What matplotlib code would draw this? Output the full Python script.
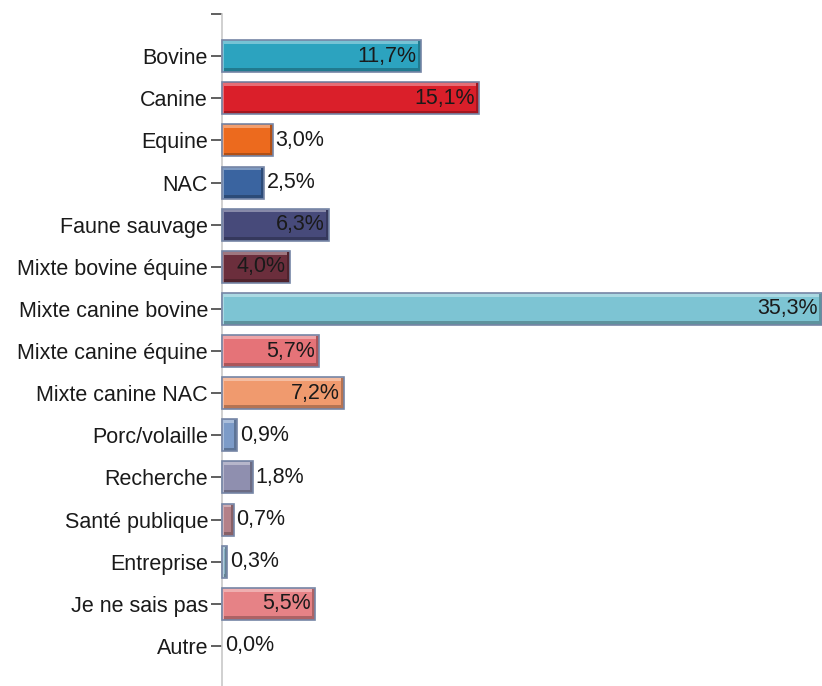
import matplotlib.pyplot as plt
import matplotlib.colors as mcolors

# categories, shares (%) and bar colours
categories = ['Bovine', 'Canine', 'Equine', 'NAC', 'Faune sauvage',
              'Mixte bovine équine', 'Mixte canine bovine', 'Mixte canine équine',
              'Mixte canine NAC', 'Porc/volaille', 'Recherche', 'Santé publique',
              'Entreprise', 'Je ne sais pas', 'Autre']
values = [11.7, 15.1, 3.0, 2.5, 6.3, 4.0, 35.3, 5.7, 7.2, 0.9, 1.8, 0.7, 0.3, 5.5, 0.0]
colors = ['#2CA3BF', '#DA1F2A', '#EC6A1E', '#3A64A0', '#474A7A', '#6B2E3C',
          '#7DC4D3', '#E57378', '#F09A6E', '#7C9BC8', '#8F8FAF', '#B48088',
          '#87AFC4', '#E68286', '#CCCCCC']


def shade(c, f):
    r, g, b = mcolors.to_rgb(c)
    if f > 0:
        return (r + (1 - r) * f, g + (1 - g) * f, b + (1 - b) * f)
    return (r * (1 + f), g * (1 + f), b * (1 + f))


plt.rcParams['font.family'] = ['Liberation Sans', 'DejaVu Sans']

fig = plt.figure(figsize=(8.22, 6.86), dpi=100)
ax = fig.add_axes([0.270, 0.0, 0.730, 1 - 14 / 686])

pos = list(range(len(categories)))
h = 0.76
px = 35.3 / 600.0   # data units per pixel along x
py = 1 / 42.14      # data units per pixel along y
edge = '#7585A5'

for y, v, c in zip(pos, values, colors):
    if v <= 0:
        continue
    ax.barh(y, v, height=h, color=c, linewidth=0, zorder=2, clip_on=False)
    # bevel: light top/left, dark bottom/right
    ax.barh(y - h / 2 + 2 * py, v, height=3.5 * py, color=shade(c, 0.35), linewidth=0, zorder=3, clip_on=False)
    ax.barh(y + h / 2 - 2 * py, v, height=3.5 * py, color=shade(c, -0.25), linewidth=0, zorder=3, clip_on=False)
    wl = min(2 * px, v / 3)
    wr = min(3 * px, v / 3)
    ax.barh(y, wl, left=0, height=h, color=shade(c, 0.35), linewidth=0, zorder=3, clip_on=False)
    ax.barh(y, wr, left=v - wr, height=h - 2 * py, color=shade(c, -0.25), linewidth=0, zorder=3, clip_on=False)
    ax.barh(y, v, height=h, color='none', edgecolor=edge, linewidth=1.2, zorder=4, clip_on=False)

for y, v in zip(pos, values):
    txt = f'{v:.1f}%'.replace('.', ',')
    if v > 3.5:
        ax.annotate(txt, (v, y), xytext=(-3, 0), textcoords='offset points',
                    ha='right', va='center', fontsize=15.5, color='#1A1A1A', zorder=5)
    else:
        ax.annotate(txt, (v, y), xytext=(2, 0), textcoords='offset points',
                    ha='left', va='center', fontsize=15.5, color='#1A1A1A', zorder=5)

ax.set_xlim(0, 35.3)
ax.set_ylim(len(categories) - 1 + 0.95, -1)
ax.set_yticks([-1] + pos)
ax.set_yticklabels([''] + categories, fontsize=15.5, color='#1A1A1A')
ax.tick_params(axis='y', length=8, width=1.2, color='#444444', pad=2)
ax.set_xticks([])
for s in ['top', 'right', 'bottom']:
    ax.spines[s].set_visible(False)
ax.spines['left'].set_color('#C8C8C8')
ax.spines['left'].set_linewidth(1.2)
ax.patch.set_alpha(0)

fig.savefig('out.png', dpi=100)
